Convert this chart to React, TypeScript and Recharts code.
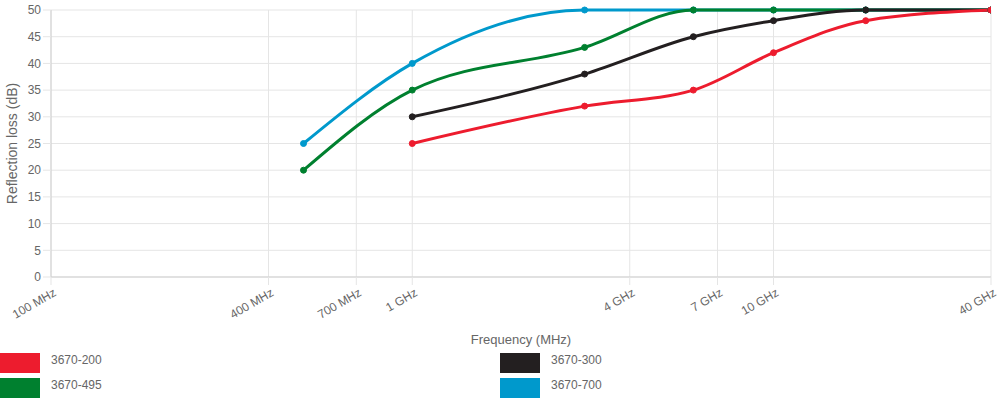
import React from 'react';
import { LineChart, Line, XAxis, YAxis, CartesianGrid } from 'recharts';

const frequencies = [500, 1000, 3000, 6000, 10000, 18000, 40000];
const loss200: (number | null)[] = [null, 25, 32, 35, 42, 48, 50];
const loss300: (number | null)[] = [null, 30, 38, 45, 48, 50, 50];
const loss495: (number | null)[] = [20, 35, 43, 50, 50, 50, 50];
const loss700: (number | null)[] = [25, 40, 50, 50, 50, 50, 50];

const seriesNames = ['3670-200', '3670-300', '3670-495', '3670-700'];
const seriesColors = ['#ED1C2E', '#231F20', '#00802F', '#0099CC'];
const seriesValues = [loss200, loss300, loss495, loss700];

const xTicks = [100, 400, 700, 1000, 4000, 7000, 10000, 40000];
const xTickLabels = ['100 MHz', '400 MHz', '700 MHz', '1 GHz', '4 GHz', '7 GHz', '10 GHz', '40 GHz'];
const yTicks = [0, 5, 10, 15, 20, 25, 30, 35, 40, 45, 50];

const FONT = '"Liberation Sans", Arial, Helvetica, sans-serif';
const GRID = '#e5e5e5';

const toData = (vals: (number | null)[]) =>
  frequencies
    .map((f, i) => ({ x: f, y: vals[i] }))
    .filter((d) => d.y !== null);

const XTick = (props: any) => {
  const { x, y, payload } = props;
  const idx = xTicks.indexOf(payload.value);
  return (
    <g transform={`translate(${x + 2},${y + 1})`}>
      <text x={0} y={0} dy={8} textAnchor="end" fill="#666" fontSize={12} fontFamily={FONT} transform="rotate(-30)">
        {idx >= 0 ? xTickLabels[idx] : ''}
      </text>
    </g>
  );
};

const drawOrder = [3, 2, 1, 0];

export default function App() {
  return (
    <div style={{ position: 'absolute', left: 0, top: 0, width: 1000, height: 400, background: '#fff', fontFamily: FONT }}>
      <LineChart width={1000} height={350} margin={{ top: 10, right: 9, left: 0, bottom: 0 }}>
        <CartesianGrid stroke={GRID} />
        <XAxis
          dataKey="x"
          type="number"
          scale="log"
          domain={[100, 40000]}
          ticks={xTicks}
          interval={0}
          allowDataOverflow
          height={73}
          tickSize={8}
          tick={<XTick />}
          stroke={GRID}
          tickLine={{ stroke: GRID }}
          axisLine={{ stroke: '#d0d0d0' }}
          label={{ value: 'Frequency (MHz)', position: 'insideBottom', offset: 6, fill: '#666', fontSize: 13, fontFamily: FONT }}
        />
        <YAxis
          dataKey="y"
          type="number"
          domain={[0, 50]}
          ticks={yTicks}
          interval={0}
          width={51}
          tickSize={8}
          tick={{ fill: '#666', fontSize: 12, fontFamily: FONT }}
          tickLine={{ stroke: GRID }}
          axisLine={{ stroke: '#d0d0d0' }}
          label={{ value: 'Reflection loss (dB)', angle: -90, position: 'center', dx: -13, fill: '#666', fontSize: 14, fontFamily: FONT }}
        />
        {drawOrder.map((i) => (
          <Line
            key={seriesNames[i]}
            data={toData(seriesValues[i])}
            dataKey="y"
            name={seriesNames[i]}
            type="monotone"
            stroke={seriesColors[i]}
            strokeWidth={3}
            dot={{ r: 3, fill: seriesColors[i], stroke: seriesColors[i], strokeWidth: 1 }}
            isAnimationActive={false}
          />
        ))}
      </LineChart>
      {seriesNames.map((name, i) => {
        const col = i % 2;
        const row = Math.floor(i / 2);
        return (
          <div
            key={name}
            style={{ position: 'absolute', left: col * 500, top: 353 + row * 25, height: 20, display: 'flex', alignItems: 'center' }}
          >
            <div style={{ width: 40, height: 20, background: seriesColors[i] }} />
            <span style={{ marginLeft: 11, fontSize: 12, color: '#666', marginTop: -6 }}>{name}</span>
          </div>
        );
      })}
    </div>
  );
}
